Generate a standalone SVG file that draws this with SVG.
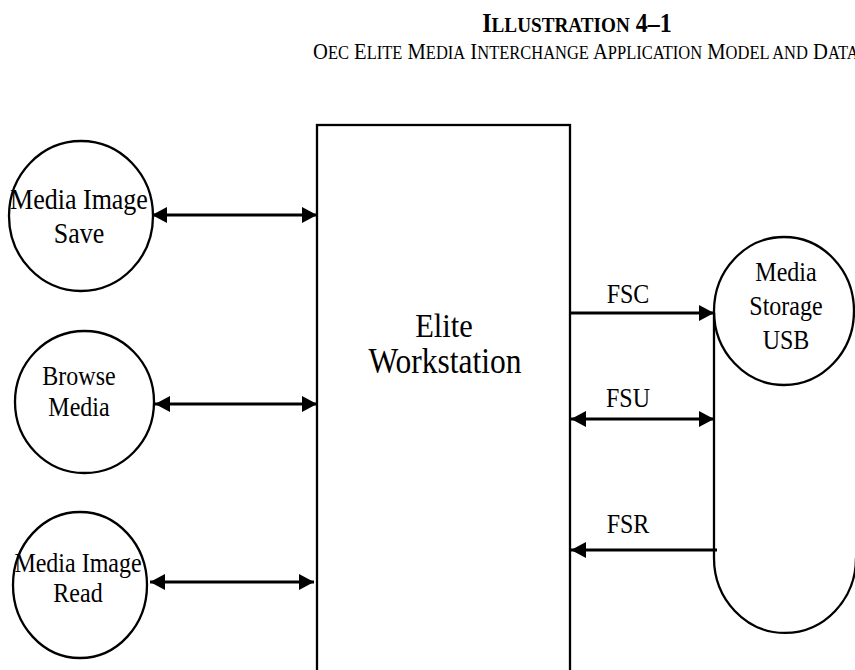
<svg xmlns="http://www.w3.org/2000/svg" width="855" height="670" viewBox="0 0 855 670">
<style>
text { font-family: "Liberation Serif", "Times New Roman", serif; fill: #000; }
.shape { fill: none; stroke: #000; stroke-width: 2.3; }
.conn { fill: none; stroke: #000; stroke-width: 3; }
.lbl { font-size: 24px; text-anchor: middle; }
</style>
<defs>
<marker id="ah" markerWidth="15" markerHeight="16" refX="15" refY="8" orient="auto-start-reverse" markerUnits="userSpaceOnUse" viewBox="0 0 15 16">
<path d="M0,0 L15,8 L0,16 Z" fill="#000"/>
</marker>
</defs>
<rect width="855" height="670" fill="#fff"/>
<g id="title">
<text transform="translate(577,32) scale(1,1.12)" text-anchor="middle" font-weight="bold"><tspan font-size="24">I</tspan><tspan font-size="19.2">LLUSTRATION</tspan><tspan font-size="24"> 4–1</tspan></text>
<text transform="translate(313,59) scale(1,1.12)"><tspan font-size="20.6">O</tspan><tspan font-size="16.5">EC</tspan><tspan font-size="20.6"> E</tspan><tspan font-size="16.5">LITE</tspan><tspan font-size="20.6"> M</tspan><tspan font-size="16.5">EDIA</tspan><tspan font-size="20.6"> I</tspan><tspan font-size="16.5">NTERCHANGE</tspan><tspan font-size="20.6"> A</tspan><tspan font-size="16.5">PPLICATION</tspan><tspan font-size="20.6"> M</tspan><tspan font-size="16.5">ODEL AND</tspan><tspan font-size="20.6"> D</tspan><tspan font-size="16.5">ATA</tspan></text>
</g>
<g id="workstation">
<rect class="shape" x="317" y="125" width="253" height="560" stroke-width="2.5"/>
<text transform="translate(444,337) scale(1,1.12)" font-size="30.5" text-anchor="middle">Elite</text>
<text transform="translate(445,373) scale(1,1.12)" font-size="31.5" text-anchor="middle">Workstation</text>
</g>
<g id="media-image-save">
<ellipse class="shape" cx="81" cy="216" rx="72" ry="75"/>
<text transform="translate(79,209) scale(1,1.15)" font-size="26" text-anchor="middle">Media Image</text>
<text transform="translate(79,243) scale(1,1.15)" font-size="26" text-anchor="middle">Save</text>
</g>
<g id="browse-media">
<ellipse class="shape" cx="84.5" cy="402" rx="69.5" ry="71"/>
<text class="lbl" transform="translate(79,385) scale(1,1.15)">Browse</text>
<text class="lbl" transform="translate(79,416) scale(1,1.15)">Media</text>
</g>
<g id="media-image-read">
<ellipse class="shape" cx="80" cy="585" rx="67" ry="73"/>
<text class="lbl" transform="translate(78,572) scale(1,1.15)">Media Image</text>
<text class="lbl" transform="translate(78,602) scale(1,1.15)">Read</text>
</g>
<g id="media-storage-usb">
<ellipse class="shape" cx="784" cy="311" rx="70" ry="74"/>
<path class="shape" d="M714,313 L714,558 A71,75 0 0 0 856,558"/>
<text class="lbl" transform="translate(786,281) scale(1,1.15)" font-size="25">Media</text>
<text class="lbl" transform="translate(786,315) scale(1,1.15)" font-size="25">Storage</text>
<text class="lbl" transform="translate(786,349) scale(1,1.15)" font-size="25">USB</text>
</g>
<g id="connectors">
<line class="conn" x1="152" y1="215" x2="317" y2="215" marker-start="url(#ah)" marker-end="url(#ah)"/>
<line class="conn" x1="155" y1="404" x2="317" y2="404" marker-start="url(#ah)" marker-end="url(#ah)"/>
<line class="conn" x1="150" y1="582" x2="314" y2="582" marker-start="url(#ah)" marker-end="url(#ah)"/>
<line class="conn" x1="570" y1="313" x2="714" y2="313" marker-end="url(#ah)"/>
<line class="conn" x1="571" y1="419" x2="714" y2="419" marker-start="url(#ah)" marker-end="url(#ah)"/>
<line class="conn" x1="717" y1="550" x2="571" y2="550" marker-end="url(#ah)"/>
<text class="lbl" transform="translate(628,303) scale(1,1.15)" font-size="25">FSC</text>
<text class="lbl" transform="translate(628,407) scale(1,1.15)" font-size="25">FSU</text>
<text class="lbl" transform="translate(628,533) scale(1,1.15)" font-size="25">FSR</text>
</g>
</svg>
